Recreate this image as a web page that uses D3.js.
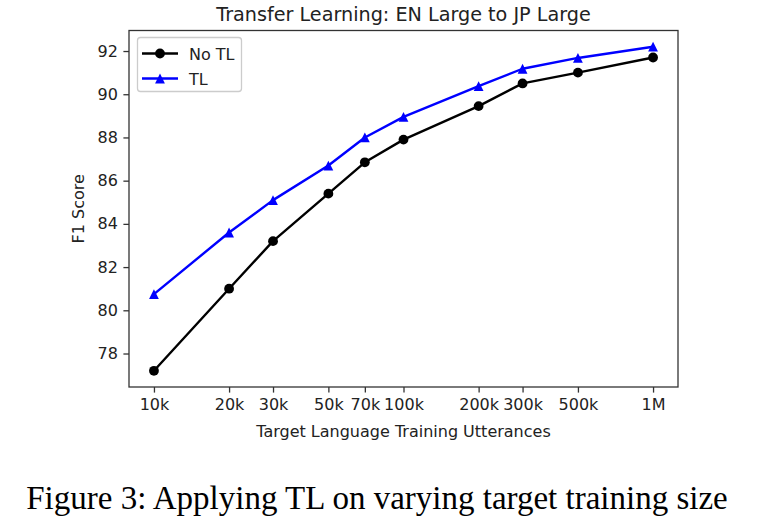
<!DOCTYPE html>
<html>
<head>
<meta charset="utf-8">
<script src="https://cdn.jsdelivr.net/npm/d3@7"></script>
<style>
  html, body { margin: 0; padding: 0; background: #fff; }
  svg { display: block; }
  text { font-family: "DejaVu Sans", sans-serif; }
</style>
</head>
<body>
<svg id="chart" width="769" height="520"></svg>
<script>
// ---- data ----
const sizes = [10000, 20000, 30000, 50000, 70000, 100000, 200000, 300000, 500000, 1000000];
const sizeLabels = ["10k", "20k", "30k", "50k", "70k", "100k", "200k", "300k", "500k", "1M"];
const noTL = [77.2, 81.0, 83.2, 85.4, 86.85, 87.9, 89.45, 90.5, 91.0, 91.7];
const withTL = [80.75, 83.6, 85.1, 86.7, 88.0, 88.95, 90.38, 91.18, 91.68, 92.2];
const yTicks = [78, 80, 82, 84, 86, 88, 90, 92];
const seriesNames = ["No TL", "TL"];
const titleText = "Transfer Learning: EN Large to JP Large";
const xLabel = "Target Language Training Utterances";
const yLabel = "F1 Score";
const caption = "Figure 3: Applying TL on varying target training size";

// ---- layout ----
const svg = d3.select("#chart");
const L = 129, R = 678, T = 30.5, B = 387;

const x = d3.scaleLog()
  .domain([Math.pow(10, 3.9), Math.pow(10, 6.1)])
  .range([L, R]);
const y = d3.scaleLinear()
  .domain([76.45, 92.95])
  .range([B, T]);

const tickLen = 5.6, tickPad = 5.6;

// frame
svg.append("rect")
  .attr("x", L).attr("y", T)
  .attr("width", R - L).attr("height", B - T)
  .attr("fill", "none").attr("stroke", "#333").attr("stroke-width", 1.3);

// x axis
const xAxis = d3.axisBottom(x)
  .tickValues(sizes)
  .tickFormat((d, i) => sizeLabels[i])
  .tickSize(tickLen).tickPadding(tickPad);
const gx = svg.append("g").attr("transform", `translate(0,${B})`).call(xAxis);
gx.select(".domain").remove();
gx.selectAll(".tick line").attr("stroke", "#333").attr("stroke-width", 1.3);
gx.selectAll(".tick text").attr("fill", "#222").style("font-size", "16px")
  .style("font-family", "'DejaVu Sans', sans-serif");

// y axis
const yAxis = d3.axisLeft(y)
  .tickValues(yTicks)
  .tickFormat(d3.format("d"))
  .tickSize(tickLen).tickPadding(tickPad);
const gy = svg.append("g").attr("transform", `translate(${L},0)`).call(yAxis);
gy.select(".domain").remove();
gy.selectAll(".tick line").attr("stroke", "#333").attr("stroke-width", 1.3);
gy.selectAll(".tick text").attr("fill", "#222").style("font-size", "16px")
  .style("font-family", "'DejaVu Sans', sans-serif");

// labels
svg.append("text")
  .attr("x", (L + R) / 2).attr("y", 437)
  .attr("text-anchor", "middle").attr("fill", "#222")
  .style("font-size", "16px").text(xLabel);

svg.append("text")
  .attr("transform", `translate(84,${(T + B) / 2}) rotate(-90)`)
  .attr("text-anchor", "middle").attr("fill", "#222")
  .style("font-size", "16px").text(yLabel);

svg.append("text")
  .attr("x", (L + R) / 2).attr("y", 21)
  .attr("text-anchor", "middle").attr("fill", "#222")
  .style("font-size", "19.2px").text(titleText);

// caption
svg.append("text")
  .attr("x", 377).attr("y", 509)
  .attr("text-anchor", "middle").attr("fill", "#000")
  .style("font-family", "'Liberation Serif', 'Times New Roman', serif")
  .style("font-size", "33px").text(caption);

// ---- series ----
const series = [
  { name: seriesNames[0], values: noTL, color: "#000000", marker: "circle" },
  { name: seriesNames[1], values: withTL, color: "#0000ff", marker: "triangle" }
];
const line = d3.line().x(d => x(d[0])).y(d => y(d[1]));

function drawMarker(g, type, cx, cy, color) {
  if (type === "circle") {
    g.append("circle").attr("cx", cx).attr("cy", cy).attr("r", 4.9).attr("fill", color);
  } else {
    // matplotlib '^': vertices (0,1),(-1,-1),(1,-1) scaled
    const s = 4.9;
    g.append("path")
      .attr("d", `M${cx},${cy - s}L${cx - s},${cy + s}L${cx + s},${cy + s}Z`)
      .attr("fill", color);
  }
}

series.forEach(s => {
  const pts = sizes.map((v, i) => [v, s.values[i]]);
  const g = svg.append("g");
  g.append("path").datum(pts).attr("d", line)
    .attr("fill", "none").attr("stroke", s.color).attr("stroke-width", 2.4)
    .attr("stroke-linejoin", "round");
  pts.forEach(p => drawMarker(g, s.marker, x(p[0]), y(p[1]), s.color));
});

// ---- legend ----
const lg = svg.append("g");
lg.append("rect")
  .attr("x", 137.5).attr("y", 37.5).attr("width", 104).attr("height", 54)
  .attr("rx", 3).attr("fill", "#fff").attr("fill-opacity", 0.8)
  .attr("stroke", "#ccc").attr("stroke-width", 1.3);
series.forEach((s, i) => {
  const yy = 53.5 + i * 25;
  lg.append("line").attr("x1", 142).attr("x2", 178).attr("y1", yy).attr("y2", yy)
    .attr("stroke", s.color).attr("stroke-width", 2.4);
  drawMarker(lg, s.marker, 160, yy, s.color);
  lg.append("text").attr("x", 189).attr("y", yy + 6).attr("fill", "#222")
    .style("font-size", "16px").text(s.name);
});
</script>
</body>
</html>
